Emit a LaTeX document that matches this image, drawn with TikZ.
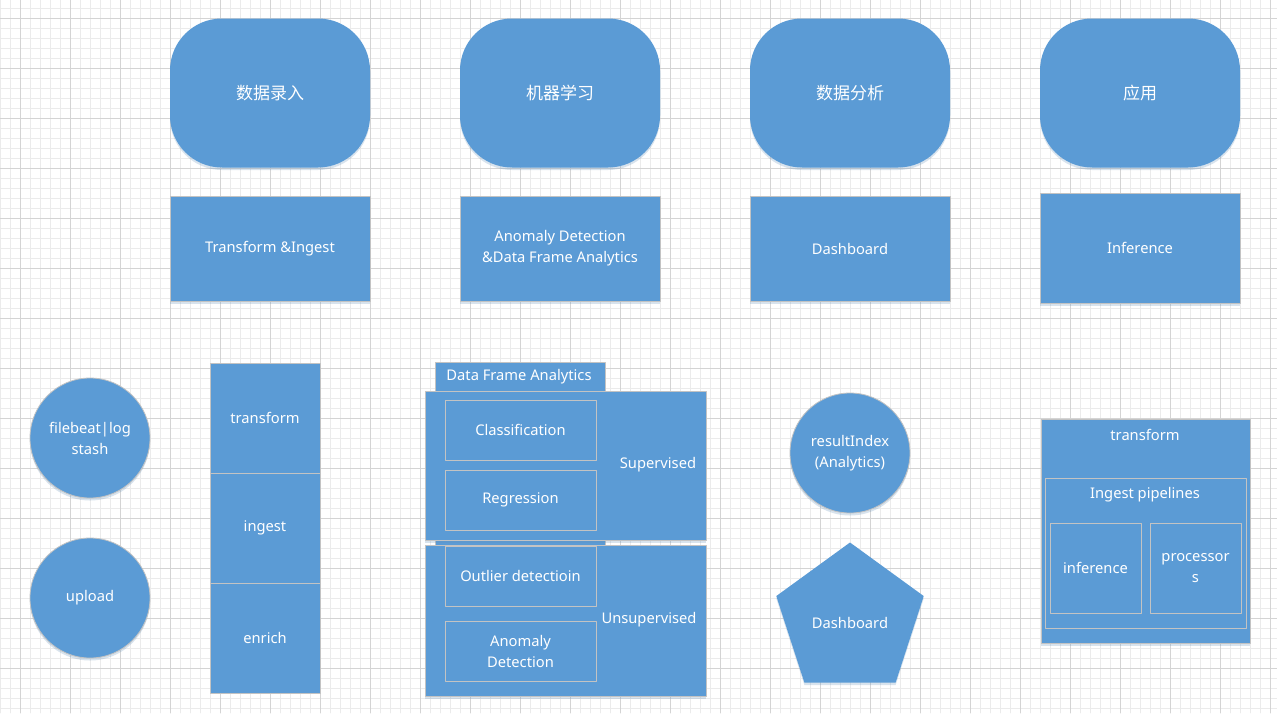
\documentclass[tikz,border=0pt]{standalone}
\usepackage{fontspec}
\setmainfont{Noto Sans}
\newfontfamily\cjk{Noto Sans CJK SC}
\usetikzlibrary{shapes.geometric,positioning,shadows}
\definecolor{boxblue}{HTML}{5B9BD5}
\definecolor{edgegray}{HTML}{C3C3C3}
\definecolor{gridminor}{HTML}{EBEBEB}
\definecolor{gridmajor}{HTML}{D4D4D4}
\tikzset{
	blk/.style={fill=boxblue, draw=edgegray, line width=0.8pt, text=white, inner sep=0pt, outer sep=0pt, align=center, font=\fontsize{14.7}{21}\selectfont},
	shd/.style={drop shadow={shadow xshift=0pt, shadow yshift=-2.5pt, opacity=0.25, fill=boxblue!70!gray}},
	topbox/.style={blk, shd, draw=none, rounded corners=52pt, minimum width=200, minimum height=149, font=\fontsize{17}{20}\selectfont\cjk},
	midbox/.style={blk, shd, minimum width=200},
	innerbox/.style={blk, minimum width=151, minimum height=60},
	lbl/.style={text=white, inner sep=0pt, align=center, font=\fontsize{14.7}{21}\selectfont}
}
\begin{document}
\begin{tikzpicture}[x=1pt, y=-1pt, line join=round, line cap=round]
	\useasboundingbox (0,0) rectangle (1277,713);
	\fill[white] (0,0) rectangle (1277,713);
	% grid paper
	\foreach \x in {0.7,10.7,...,1277}
	\draw[gridminor, line width=0.6pt] (\x,0)--(\x,713);
	\foreach \y in {8,18,...,713}
	\draw[gridminor, line width=0.6pt] (0,\y)--(1277,\y);
	\foreach \x in {20.7,70.7,...,1277}
	\draw[gridmajor, line width=0.6pt] (\x,0)--(\x,713);
	\foreach \y in {18,68,...,713}
	\draw[gridmajor, line width=0.6pt] (0,\y)--(1277,\y);
	% stages
	\foreach \x\t\n in {270/数据录入/a,560/机器学习/b,850/数据分析/c,1140/应用/d}
	\node[topbox] (stage\n) at (\x,93) {\t};
	% tools
	\node[midbox, minimum height=105] (ingestbox) at (270,248.5) {Transform \&Ingest};
	\node[midbox, minimum height=105] (mlbox) at (560,248.5) {Anomaly Detection\\\&Data Frame Analytics};
	\node[midbox, minimum height=105] (dashbox) at (850,248.5) {Dashboard};
	\node[midbox, minimum height=110] (infbox) at (1140,248) {Inference};
	% data in
	\node[blk, shd, circle, minimum size=120] (beats) at (90,438) {filebeat|log\\stash};
	\node[blk, shd, circle, minimum size=120] (upload) at (90,598) {upload};
	\node[blk, shd, minimum width=110, minimum height=110] (transform) at (265,418) {transform};
	\node[blk, minimum width=110, minimum height=110, below=0pt of transform] (ingest) {ingest};
	\node[blk, minimum width=110, minimum height=110, below=0pt of ingest] (enrich) {enrich};
	% data frame analytics
	\node[blk, minimum width=170, minimum height=183, anchor=north] (dfatab) at (520,362) {};
	\node[lbl] (dfatxt) at (519,377) {Data Frame Analytics};
	\node[blk, shd, minimum width=281, minimum height=149] (sup) at (565.5,465.5) {};
	\node[innerbox] (classif) at (520.5,430) {Classification};
	\node[innerbox] (regress) at (520.5,500) {Regression};
	\node[lbl] (suptxt) at (658,465) {Supervised};
	\node[blk, shd, minimum width=281, minimum height=151] (unsup) at (565.5,620.5) {};
	\node[innerbox] (outlier) at (520.5,576) {Outlier detectioin};
	\node[innerbox] (anomaly) at (520.5,651) {Anomaly\\Detection};
	\node[lbl] (unsuptxt) at (649,620) {Unsupervised};
	% analysis
	\node[blk, shd, circle, minimum size=120] (result) at (850,453) {resultIndex\\(Analytics)};
	\node[blk, shd, draw=none, regular polygon, regular polygon sides=5, minimum size=155] (dash) at (850,620) {};
	\node[lbl] (dashtxt) at (850,623) {Dashboard};
	% application
	\node[blk, shd, minimum width=209, minimum height=224] (apptrans) at (1145.5,531) {};
	\node[lbl] (apptranstxt) at (1145,435) {transform};
	\node[blk, minimum width=201, minimum height=150] (pipes) at (1145.5,553) {};
	\node[lbl] (pipestxt) at (1145,495) {Ingest pipelines};
	\node[blk, minimum width=91, minimum height=90] (infer) at (1095.5,568) {inference};
	\node[blk, minimum width=91, minimum height=90] (procs) at (1195.5,568) {processor\\s};
\end{tikzpicture}
\end{document}
